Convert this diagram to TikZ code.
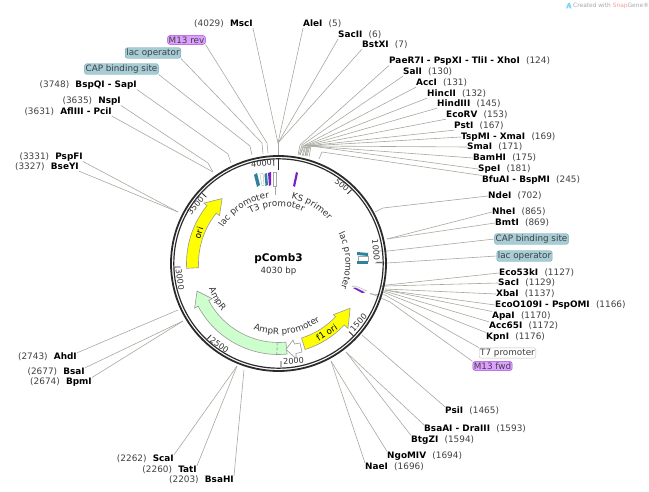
\documentclass[tikz,border=0pt]{standalone}
\usepackage{fontspec}
\usetikzlibrary{decorations.text}
\setmainfont{DejaVu Sans}

\definecolor{leadgray}{HTML}{A8A8A0}
\definecolor{numgray}{HTML}{404040}
\definecolor{ringdark}{HTML}{2B2B2B}
\definecolor{oriyellow}{HTML}{FFFF00}
\definecolor{amppale}{HTML}{CCFFCC}
\definecolor{opblue}{HTML}{A6CDD6}
\definecolor{opedge}{HTML}{6FA7B5}
\definecolor{primerpurple}{HTML}{DDA0FF}
\definecolor{primeredge}{HTML}{A040E0}
\definecolor{capteal}{HTML}{2E8299}
\definecolor{markpurple}{HTML}{7A1FC8}

\tikzset{
    siteleft/.style={anchor=east, inner sep=0pt, font=\fontsize{8.9}{10}\selectfont},
    siteright/.style={anchor=west, inner sep=0pt, font=\fontsize{8.9}{10}\selectfont},
    opbox/.style={rounded corners=2pt, draw=opedge, fill=opblue, inner sep=1pt, font=\fontsize{8.8}{10}\selectfont, text=black!75},
    primerbox/.style={rounded corners=2pt, draw=primeredge, fill=primerpurple, inner sep=1pt, font=\fontsize{8.8}{10}\selectfont, text=black!75},
    whitebox/.style={rounded corners=2pt, draw=black!25, fill=white, inner sep=1pt, font=\fontsize{8.8}{10}\selectfont, text=black!75},
    leader/.style={draw=leadgray, line width=0.6pt},
    tickmark/.style={ringdark, line width=0.8pt},
    ticknum/.style={inner sep=0pt, font=\fontsize{8.1}{10}\selectfont, text=black!80},
    featurearrow/.style={draw=black!40, line width=0.6pt},
    markline/.style={draw=black!35, fill=white, line width=0.3pt},
    arclabel/.style={decorate, decoration={text along path, text align=center, text={|\fontsize{8.8}{10}\selectfont\color{black!80}|#1}}}
}
\newcommand{\lsite}[2]{{\color{numgray}(#2)}\hspace{0.7em}\textbf{#1}}
\newcommand{\rsite}[2]{\textbf{#1}\hspace{0.7em}{\color{numgray}(#2)}}

\begin{document}
\begin{tikzpicture}[x=1pt,y=1pt,yscale=-1]
    \useasboundingbox (0,0) rectangle (649,492);

    % Credit line
    \fill[cyan!50] (566,8.5) -- (568,3) -- (570,3) -- (571.5,8.5) -- (569.5,8.5) -- (568.8,5.5) -- (567.8,8.5) -- cycle;
    \node[inner sep=0pt, anchor=west, text=black!35, font=\fontsize{5.9}{7}\selectfont] (credit) at (573,6) {Created with {\color{red!40}Snap}Gene®};

    % Left sites
    \node[siteleft] (mscI) at (253,24) {\lsite{MscI}{4029}};
    \node[siteleft] (bspQI) at (137,85) {\lsite{BspQI - SapI}{3748}};
    \node[siteleft] (nspI) at (121,101) {\lsite{NspI}{3635}};
    \node[siteleft] (aflIII) at (112,112) {\lsite{AflIII - PciI}{3631}};
    \node[siteleft] (pspFI) at (83,157) {\lsite{PspFI}{3331}};
    \node[siteleft] (bseYI) at (79,167) {\lsite{BseYI}{3327}};
    \node[siteleft] (ahdI) at (77,357) {\lsite{AhdI}{2743}};
    \node[siteleft] (bsaI) at (85,372) {\lsite{BsaI}{2677}};
    \node[siteleft] (bpmI) at (92,382) {\lsite{BpmI}{2674}};
    \node[siteleft] (scaI) at (174,459) {\lsite{ScaI}{2262}};
    \node[siteleft] (tatI) at (197,470) {\lsite{TatI}{2260}};
    \node[siteleft] (bsaHI) at (234,480) {\lsite{BsaHI}{2203}};

    % Right sites
    \node[siteright] (aleI) at (303,24) {\rsite{AleI}{5}};
    \node[siteright] (sacII) at (338,35) {\rsite{SacII}{6}};
    \node[siteright] (bstXI) at (362,45) {\rsite{BstXI}{7}};
    \node[siteright] (paeR) at (389,61) {\rsite{PaeR7I - PspXI - TliI - XhoI}{124}};
    \node[siteright] (salI) at (403,72) {\rsite{SalI}{130}};
    \node[siteright] (accI) at (416,83) {\rsite{AccI}{131}};
    \node[siteright] (hincII) at (427,94) {\rsite{HincII}{132}};
    \node[siteright] (hindIII) at (437,104) {\rsite{HindIII}{145}};
    \node[siteright] (ecoRV) at (446,115) {\rsite{EcoRV}{153}};
    \node[siteright] (pstI) at (454,126) {\rsite{PstI}{167}};
    \node[siteright] (tspMI) at (461,137) {\rsite{TspMI - XmaI}{169}};
    \node[siteright] (smaI) at (467,147) {\rsite{SmaI}{171}};
    \node[siteright] (bamHI) at (473,158) {\rsite{BamHI}{175}};
    \node[siteright] (speI) at (478,169) {\rsite{SpeI}{181}};
    \node[siteright] (bfuAI) at (482,180) {\rsite{BfuAI - BspMI}{245}};
    \node[siteright] (ndeI) at (488,196) {\rsite{NdeI}{702}};
    \node[siteright] (nheI) at (492,212) {\rsite{NheI}{865}};
    \node[siteright] (bmtI) at (495,223) {\rsite{BmtI}{869}};
    \node[siteright] (eco53) at (499,273) {\rsite{Eco53kI}{1127}};
    \node[siteright] (sacI) at (498,283) {\rsite{SacI}{1129}};
    \node[siteright] (xbaI) at (496,294) {\rsite{XbaI}{1137}};
    \node[siteright] (ecoO) at (495,305) {\rsite{EcoO109I - PspOMI}{1166}};
    \node[siteright] (apaI) at (492,316) {\rsite{ApaI}{1170}};
    \node[siteright] (acc65) at (489,326) {\rsite{Acc65I}{1172}};
    \node[siteright] (kpnI) at (486,337) {\rsite{KpnI}{1176}};
    \node[siteright] (psiI) at (445,411) {\rsite{PsiI}{1465}};
    \node[siteright] (bsaAI) at (424,429) {\rsite{BsaAI - DraIII}{1593}};
    \node[siteright] (btgZI) at (411,440) {\rsite{BtgZI}{1594}};
    \node[siteright] (ngoMIV) at (387,456) {\rsite{NgoMIV}{1694}};
    \node[siteright] (naeI) at (365,467) {\rsite{NaeI}{1696}};

    % Boxed features
    \node[primerbox] (m13rev) at (186.5,40) {M13 rev};
    \node[opbox] (lacopA) at (153,53) {lac operator};
    \node[opbox] (capA) at (121.5,69) {CAP binding site};
    \node[opbox] (capB) at (531.5,239) {CAP binding site};
    \node[opbox] (lacopB) at (524.5,256) {lac operator};
    \node[whitebox] (t7) at (507.5,353) {T7 promoter};
    \node[primerbox] (m13fwd) at (492.5,366) {M13 fwd};

    % Elbow points
    \coordinate (topfan) at (278,143);
    \coordinate (topring) at (278,155);

    % Leaders, top
    \draw[leader] (mscI.south east) -- (topfan);
    \draw[leader] (aleI.south west) -- (topfan);
    \draw[leader] (sacII.south west) -- (topfan);
    \draw[leader] (bstXI.south west) -- (topfan);
    \draw[leader] (topfan) -- (topring);
    \draw[leader] (m13rev.south east) -- (267,143) -- (268,153);
    \draw[leader] (lacopA.south east) -- (262,143) -- (263,154);
    \draw[leader] (capA.south east) -- (250,146) -- (252,155);
    \draw[leader] (bspQI.south east) -- (228,154) -- (231,163);
    \draw[leader] (nspI.south east) -- (208,163) -- (213,172);
    \draw[leader] (aflIII.south east) -- (213,172);
    \draw[leader] (pspFI.south east) -- (178,212);
    \draw[leader] (bseYI.south east) -- (178,212);

    % Leaders, right fan
    \draw[leader] (paeR.south west) -- (300,145) -- (298,155);
    \draw[leader] (salI.south west) -- (302,145) -- (299,155);
    \draw[leader] (accI.south west) -- (303,146) -- (300,155);
    \draw[leader] (hincII.south west) -- (304,146) -- (300,155);
    \draw[leader] (hindIII.south west) -- (305,146) -- (302,156);
    \draw[leader] (ecoRV.south west) -- (306,146) -- (303,156);
    \draw[leader] (pstI.south west) -- (307,146) -- (305,156);
    \draw[leader] (tspMI.west) -- (308,146) -- (305,156);
    \draw[leader] (smaI.west) -- (309,146) -- (306,156);
    \draw[leader] (bamHI.west) -- (310,146) -- (307,156);
    \draw[leader] (speI.west) -- (311,146) -- (309,157);
    \draw[leader] (bfuAI.north west) -- (322,152) -- (319,159);
    \draw[leader] (ndeI.west) -- (383,208) -- (375,212);
    \draw[leader] (nheI.west) -- (387,239);
    \draw[leader] (bmtI.west) -- (387,239);
    \draw[leader] (capB.west) -- (388,251) -- (378,251);
    \draw[leader] (lacopB.west) -- (387,263) -- (375,263);
    \draw[leader] (eco53.west) -- (387,285) -- (380,286);
    \draw[leader] (sacI.west) -- (386,286) -- (380,287);
    \draw[leader] (xbaI.west) -- (385,289);
    \draw[leader] (ecoO.west) -- (385,290);
    \draw[leader] (apaI.north west) -- (385,290);
    \draw[leader] (acc65.north west) -- (384,291);
    \draw[leader] (kpnI.north west) -- (383,292);
    \draw[leader] (t7.north west) -- (385,295) -- (370,294);
    \draw[leader] (m13fwd.north west) -- (390,302) -- (370,293);

    % Leaders, bottom
    \draw[leader] (psiI.north west) -- (362,335);
    \draw[leader] (bsaAI.north west) -- (346,352);
    \draw[leader] (btgZI.north west) -- (346,352);
    \draw[leader] (ngoMIV.north west) -- (331,361);
    \draw[leader] (naeI.north west) -- (331,361);
    \draw[leader] (ahdI.north east) -- (178,310);
    \draw[leader] (bsaI.north east) -- (183,321);
    \draw[leader] (bpmI.north east) -- (183,321);
    \draw[leader] (scaI.north east) -- (237,366);
    \draw[leader] (tatI.north east) -- (237,366);
    \draw[leader] (bsaHI.north east) -- (244,370);

    % Small marks, top
    \fill[capteal] (254,175) -- (257,173) -- (260,185) -- (257,187) -- cycle;
    \draw[markline] (260,174) -- (263,173) -- (264,185) -- (262,186) -- cycle;
    \fill[capteal] (264.5,174) -- (267,173) -- (268,185) -- (265.5,186) -- cycle;
    \fill[markpurple] (268,173) -- (271,172) -- (271,185) -- (269,186) -- cycle;
    \draw[markline] (273,172) -- (276,172) -- (276,186) -- (273,186) -- cycle;
    \draw[leader] (275,186) -- (275,195);
    \fill[markpurple] (296,172) -- (298,173) -- (295,187) -- (293,186) -- cycle;

    % Small marks, right
    \fill[capteal] (357,252) -- (368,253) -- (368,256) -- (357,255) -- cycle;
    \draw[markline] (358,256) rectangle (368,261);
    \fill[capteal] (357,261) -- (368,261) -- (368,264) -- (357,264) -- cycle;
    \draw[markline] (352,286) -- (356,286) -- (367,291) -- (363,291) -- cycle;
    \fill[markpurple] (353,288) -- (356,288) -- (365,292.5) -- (362,293) -- cycle;

    \begin{scope}[shift={(278.5,263.5)},yscale=-1]
        % Ring
        \draw[ringdark, line width=1.8pt] (0,0) circle (107.5);
        \draw[ringdark, line width=1.2pt] (0,0) circle (104.7);

        % Ticks
        \draw[ringdark, line width=1.8pt] (90:104) -- (90:93);
        \draw[tickmark] (45.3:104) -- (45.3:98);
        \draw[tickmark] (0.7:104) -- (0.7:98);
        \draw[tickmark] (-44:104) -- (-44:98);
        \draw[tickmark] (-88.6:104) -- (-88.6:98);
        \draw[tickmark] (-133.3:104) -- (-133.3:98);
        \draw[tickmark] (-178:104) -- (-178:98);
        \draw[tickmark] (137.4:104) -- (137.4:98);
        \draw[tickmark] (92.7:104) -- (92.7:98);

        % Tick numbers
        \node[ticknum, rotate=-40] (n500) at (63.5,78.5) {500};
        \node[ticknum, rotate=-85] (n1000) at (97.5,13.5) {1000};
        \node[ticknum, rotate=48] (n1500) at (80,-59) {1500};
        \node[ticknum, rotate=3] (n2000) at (15,-97.5) {2000};
        \node[ticknum, rotate=-36] (n2500) at (-59,-81.5) {2500};
        \node[ticknum, rotate=-82] (n3000) at (-98.5,-16) {3000};
        \node[ticknum, rotate=50] (n3500) at (-83,58) {3500};
        \node[ticknum, rotate=5] (n4000) at (-17,100) {4000};

        % Feature arrows
        \draw[featurearrow, fill=oriyellow] (183:92) arc[start angle=183, end angle=141, radius=92] -- (141:96) -- (131:86) -- (141:76) -- (141:80) arc[start angle=141, end angle=183, radius=80] -- cycle;
        \draw[featurearrow, fill=oriyellow] (-72.8:90) arc[start angle=-72.8, end angle=-43, radius=90] -- (-43:95) -- (-32:84.5) -- (-43:75) -- (-43:78) arc[start angle=-43, end angle=-72.8, radius=78] -- cycle;
        \draw[featurearrow, fill=amppale] (-84.6:91) arc[start angle=-84.6, end angle=-152, radius=91] -- (-152:95) -- (-161.3:86) -- (-152:75) -- (-152:79) arc[start angle=-152, end angle=-84.6, radius=79] -- cycle;
        \draw[black!60, line width=0.5pt, densely dashed] (-91:79) -- (-91:91);

        % Curved labels
        \path[arclabel={T3 promoter}] (137:57) arc[start angle=137, end angle=47, radius=57];
        \path[arclabel={KS primer}] (105:66) arc[start angle=105, end angle=15, radius=66];
        \path[arclabel={lac promoter}] (170:66) arc[start angle=170, end angle=75, radius=66];
        \path[arclabel={lac promoter}] (50:67) arc[start angle=50, end angle=-45, radius=67];
        \path[arclabel={AmpR promoter}] (-135:71) arc[start angle=-135, end angle=-30, radius=71];
        \path[arclabel={AmpR}] (-180:74) arc[start angle=-180, end angle=-120, radius=74];
        \node[rotate=72, inner sep=0pt, font=\fontsize{8.8}{10}\selectfont] (oriname) at (159:85.5) {ori};
        \node[rotate=33, inner sep=0pt, font=\fontsize{8.8}{10}\selectfont] (f1name) at (-55:84) {f1 ori};

        % Centre
        \node[font=\bfseries\fontsize{10.5}{12}\selectfont, inner sep=0pt] (title) at (0,4.5) {pComb3};
        \node[font=\fontsize{8.6}{10}\selectfont, text=black!80, inner sep=0pt] (size) at (0,-7.5) {4030 bp};
    \end{scope}

    % AmpR promoter arrow
    \draw[featurearrow, fill=white] (286,349.5) -- (293,340) -- (294.5,344) -- (300,343) -- (302,352) -- (296,353.5) -- (296,358.5) -- cycle;
\end{tikzpicture}
\end{document}
